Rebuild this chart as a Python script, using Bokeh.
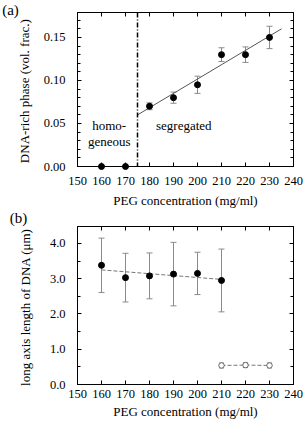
from bokeh.plotting import figure
from bokeh.models import (ColumnDataSource, Whisker, TeeHead, FixedTicker, LinearAxis,
                          Label, Range1d, Span, NumeralTickFormatter, CustomJSTickFormatter)
from bokeh.core.properties import value
from bokeh.layouts import column
from bokeh.embed import file_html
from bokeh.resources import INLINE

# ---------------- data ----------------
x_ticks = [150, 160, 170, 180, 190, 200, 210, 220, 230, 240]

# panel (a)
a_peg = [160, 170, 180, 190, 200, 210, 220, 230]
a_frac = [0.0, 0.0, 0.070, 0.080, 0.095, 0.130, 0.130, 0.150]
a_err = [0.0, 0.0, 0.004, 0.0065, 0.010, 0.008, 0.009, 0.013]
a_fit_x = [175, 235]
a_fit_y = [0.060, 0.160]
a_boundary = 175
a_yticks = [0.0, 0.05, 0.10, 0.15]
a_yminor = [0.01, 0.02, 0.03, 0.04, 0.06, 0.07, 0.08, 0.09, 0.11, 0.12, 0.13, 0.14, 0.16, 0.17]

# panel (b)
b_peg = [160, 170, 180, 190, 200, 210]
b_len = [3.38, 3.03, 3.08, 3.13, 3.15, 2.95]
b_err = [0.77, 0.69, 0.65, 0.90, 0.60, 0.89]
b_fit_x = [160, 210]
b_fit_y = [3.25, 2.98]
b2_peg = [210, 220, 230]
b2_len = [0.54, 0.55, 0.54]
b2_err = [0.07, 0.07, 0.07]
b_yticks = [0.0, 1.0, 2.0, 3.0, 4.0]
b_yminor = [0.5, 1.5, 2.5, 3.5]

FONT = "Liberation Serif"
FS_TICK = "12.5px"
FS_TITLE = "13px"
ERR_COLOR = "#8a8a8a"
EMPTY = CustomJSTickFormatter(code="return ''")


def style_axes(p, yticks, yminor, yfmt, xlabel, ylabel):
    p.grid.visible = False
    p.outline_line_color = "black"
    p.outline_line_width = 1
    p.background_fill_color = "white"
    p.border_fill_color = "white"
    xt = FixedTicker(ticks=x_ticks, minor_ticks=[])
    yt = FixedTicker(ticks=yticks, minor_ticks=yminor)
    for ax in p.xaxis:
        ax.ticker = xt
    for ax in p.yaxis:
        ax.ticker = yt
        ax.formatter = NumeralTickFormatter(format=yfmt)
    for ax in list(p.xaxis) + list(p.yaxis):
        ax.major_tick_in = 4
        ax.major_tick_out = 0
        ax.minor_tick_in = 3
        ax.minor_tick_out = 0
        ax.axis_line_color = "black"
        ax.major_tick_line_color = "black"
        ax.minor_tick_line_color = "black"
        ax.major_label_text_font = FONT
        ax.major_label_text_font_size = FS_TICK
        ax.major_label_text_color = "black"
        ax.axis_label_text_font = FONT
        ax.axis_label_text_font_size = FS_TITLE
        ax.axis_label_text_font_style = "normal"
        ax.axis_label_text_color = "black"
    p.xaxis.axis_label = xlabel
    p.yaxis.axis_label = ylabel
    p.xaxis.major_label_standoff = 10
    p.xaxis.axis_label_standoff = 5
    p.yaxis.major_label_standoff = 12
    p.yaxis.axis_label_standoff = 9
    # mirrored ticks on top and right (no labels)
    top = LinearAxis(ticker=xt, formatter=EMPTY, major_label_text_font_size="1px",
                     major_label_standoff=0, major_tick_in=4, major_tick_out=0,
                     minor_tick_in=0, minor_tick_out=0, axis_line_color="black")
    right = LinearAxis(ticker=yt, formatter=EMPTY, major_label_text_font_size="1px",
                       major_label_standoff=0, major_tick_in=4, major_tick_out=0,
                       minor_tick_in=3, minor_tick_out=0, axis_line_color="black")
    p.add_layout(top, "above")
    p.add_layout(right, "right")


def tag(p, x, y, txt):
    p.text(x=[x], y=[y], text=[txt], text_font=value(FONT), text_font_size="15px",
           text_align="left", text_baseline="top", text_color="black", level="overlay")


# ---------------- panel (a) ----------------
pa = figure(width=305, height=210, x_range=Range1d(150, 240), y_range=Range1d(0, 0.179),
            output_backend="svg", toolbar_location=None,
            min_border_left=77, min_border_right=12, min_border_top=12, min_border_bottom=41)
style_axes(pa, a_yticks, a_yminor, "0.00", "PEG concentration (mg/ml)",
           "DNA-rich phase  (vol. frac.)")

a_src = ColumnDataSource(dict(x=a_peg, y=a_frac))
a_err_src = ColumnDataSource(dict(x=a_peg[2:], upper=[v + e for v, e in zip(a_frac[2:], a_err[2:])],
                                  lower=[v - e for v, e in zip(a_frac[2:], a_err[2:])]))
pa.add_layout(Whisker(source=a_err_src, base="x", upper="upper", lower="lower",
                      line_color=ERR_COLOR, line_width=1,
                      upper_head=TeeHead(size=6, line_color=ERR_COLOR, line_width=1),
                      lower_head=TeeHead(size=6, line_color=ERR_COLOR, line_width=1)))
pa.line(a_fit_x, a_fit_y, line_color="#555555", line_width=1)
pa.add_layout(Span(location=a_boundary, dimension="height", line_color="black",
                   line_width=1.5, line_dash="5 2 1 2"))
pa.scatter("x", "y", source=a_src, size=6, color="black", level="overlay")

for txt, xx, yy in [("homo-", 163.2, 0.0472), ("geneous", 163.2, 0.0289), ("segregated", 194.3, 0.0475)]:
    pa.add_layout(Label(x=xx, y=yy, text=txt, text_font=FONT, text_font_size=FS_TITLE,
                        text_align="center", text_baseline="middle", text_color="black"))
tag(pa, 118.6, 0.1916, "(a)")

# ---------------- panel (b) ----------------
pb = figure(width=305, height=213, x_range=Range1d(150, 240), y_range=Range1d(0, 4.48),
            output_backend="svg", toolbar_location=None,
            min_border_left=72, min_border_right=10, min_border_top=16, min_border_bottom=39)
style_axes(pb, b_yticks, b_yminor, "0.0", "PEG concentration (mg/ml)",
           "long axis length of DNA  (μm)")
pb.xaxis.major_label_standoff = 5
pb.xaxis.axis_label_standoff = 3
pb.yaxis.axis_label_standoff = 14

b_err_src = ColumnDataSource(dict(x=b_peg, upper=[v + e for v, e in zip(b_len, b_err)],
                                  lower=[v - e for v, e in zip(b_len, b_err)]))
pb.add_layout(Whisker(source=b_err_src, base="x", upper="upper", lower="lower",
                      line_color=ERR_COLOR, line_width=1,
                      upper_head=TeeHead(size=6, line_color=ERR_COLOR, line_width=1),
                      lower_head=TeeHead(size=6, line_color=ERR_COLOR, line_width=1)))
b2_err_src = ColumnDataSource(dict(x=b2_peg, upper=[v + e for v, e in zip(b2_len, b2_err)],
                                   lower=[v - e for v, e in zip(b2_len, b2_err)]))
pb.add_layout(Whisker(source=b2_err_src, base="x", upper="upper", lower="lower",
                      line_color=ERR_COLOR, line_width=1,
                      upper_head=TeeHead(size=5, line_color=ERR_COLOR, line_width=1),
                      lower_head=TeeHead(size=5, line_color=ERR_COLOR, line_width=1)))
pb.line(b_fit_x, b_fit_y, line_color="#777777", line_width=1, line_dash="4 2")
pb.line(b2_peg, b2_len, line_color="#777777", line_width=1, line_dash="4 2")
pb.scatter(b_peg, b_len, size=6, color="black")
pb.scatter(b2_peg, b2_len, size=5.5, fill_color="white", line_color="#666666", line_width=1)
tag(pb, 121.8, 4.934, "(b)")

layout = column(pa, pb, spacing=0)
open("out.html", "w").write(file_html(layout, INLINE))
